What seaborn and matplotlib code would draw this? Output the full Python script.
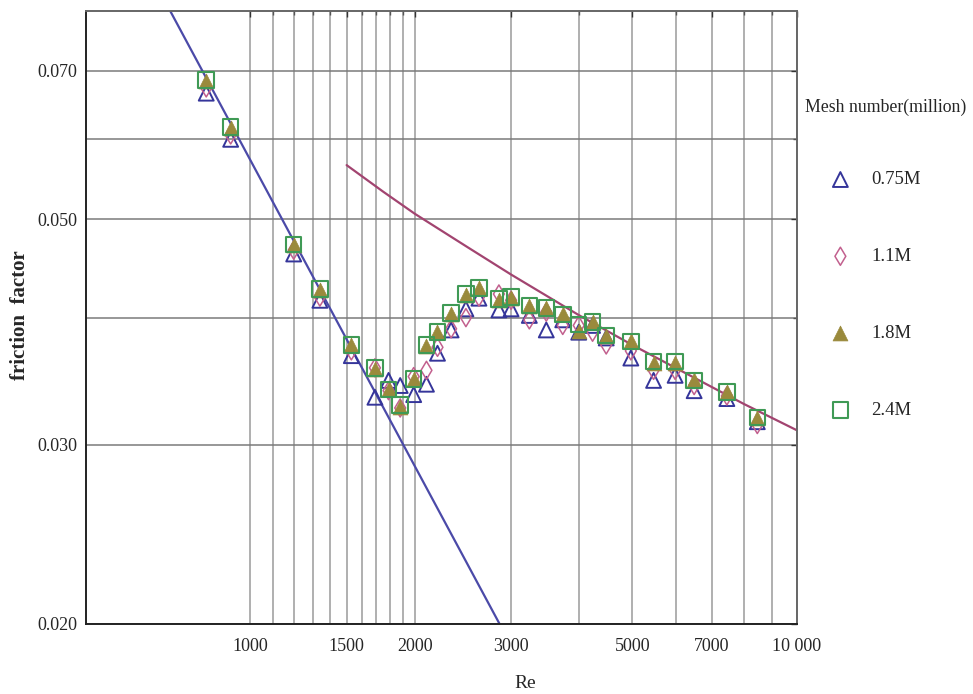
import matplotlib
matplotlib.use("Agg")
import matplotlib.pyplot as plt
import seaborn as sns
import numpy as np
from matplotlib.ticker import FixedLocator, FixedFormatter, NullFormatter

# ---- data ----
re_vals = [830, 920, 1200, 1340, 1530, 1690, 1790, 1880, 1990, 2100, 2200, 2330,
           2480, 2620, 2850, 3000, 3240, 3480, 3730, 3990, 4230, 4480, 4970, 5470,
           5990, 6490, 7450, 8470]
f_075 = [0.0665, 0.0599, 0.0462, 0.0416, 0.0367, 0.0334, 0.0347, 0.0343, 0.0336, 0.0344,
         0.0369, 0.0389, 0.0408, 0.0418, 0.0407, 0.0408, 0.0402, 0.0389, 0.0398, 0.0387,
         0.0393, 0.0382, 0.0365, 0.0347, 0.0351, 0.0339, 0.0333, 0.0316]
f_11 = [0.0673, 0.0605, 0.0466, 0.0419, 0.0371, 0.0357, 0.0339, 0.0326, 0.0350, 0.0355,
        0.0374, 0.0390, 0.0400, 0.0419, 0.0422, 0.0416, 0.0398, 0.0405, 0.0393, 0.0393,
        0.0387, 0.0376, 0.0371, 0.0355, 0.0355, 0.0343, 0.0335, 0.0314]
f_18 = [0.0684, 0.0615, 0.0471, 0.0426, 0.0376, 0.0356, 0.0340, 0.0327, 0.0348, 0.0375,
        0.0387, 0.0403, 0.0421, 0.0428, 0.0416, 0.0418, 0.0411, 0.0409, 0.0403, 0.0388,
        0.0396, 0.0384, 0.0379, 0.0361, 0.0361, 0.0347, 0.0338, 0.0319]
f_24 = [0.0685, 0.0616, 0.0472, 0.0427, 0.0376, 0.0357, 0.0340, 0.0328, 0.0348, 0.0376,
        0.0387, 0.0404, 0.0422, 0.0428, 0.0417, 0.0419, 0.0411, 0.0409, 0.0403, 0.0394,
        0.0396, 0.0384, 0.0379, 0.0362, 0.0362, 0.0347, 0.0338, 0.0319]

re_lam = [700, 2900]
f_lam = [0.0816, 0.0197]
re_turb = [1500, 1750, 2000, 2500, 3000, 4000, 5000, 6000, 8000, 10000]
f_turb = [0.0565, 0.0532, 0.0506, 0.0469, 0.0441, 0.0402, 0.0376, 0.0357, 0.0329, 0.0310]

series_labels = ["0.75M", "1.1M", "1.8M", "2.4M"]
x_major = [1000, 1500, 2000, 3000, 5000, 7000, 10000]
x_major_labels = ["1000", "1500", "2000", "3000", "5000", "7000", "10 000"]
x_minor = [1100, 1200, 1300, 1400, 1600, 1700, 1800, 1900, 4000, 6000, 8000, 9000]
y_major = [0.020, 0.030, 0.050, 0.070]
y_major_labels = ["0.020", "0.030", "0.050", "0.070"]
y_minor = [0.040, 0.060]

# ---- style ----
sns.set_style("white")
plt.rcParams["font.family"] = ["Liberation Serif", "DejaVu Serif"]

fig = plt.figure(figsize=(9.73, 6.94), dpi=100)
ax = fig.add_axes([86 / 973, 1 - 623.7 / 694, (796.7 - 86) / 973, (623.7 - 11) / 694])
ax.set_xscale("log")
ax.set_yscale("log")

c_blue_line = "#4b4aa8"
c_pink_line = "#a24470"
sns.lineplot(x=re_lam, y=f_lam, color=c_blue_line, lw=1.6, sort=False, estimator=None, ax=ax)
sns.lineplot(x=re_turb, y=f_turb, color=c_pink_line, lw=1.6, sort=False, estimator=None, ax=ax)

styles = [
    (f_075, "^", 115, "none", "#35359a", 1.4),
    (f_11, "d", 85, "none", "#c2608e", 1.1),
    (f_18, "^", 115, "#9a8a3c", "#9a8a3c", 0.5),
    (f_24, "s", 125, "none", "#3f9a55", 1.5),
]
for (fv, mk, sz, fc, ec, lw), lab in zip(styles, series_labels):
    sns.scatterplot(x=re_vals, y=fv, marker=mk, s=sz, facecolor=fc, edgecolor=ec,
                    linewidth=lw, label=lab, ax=ax, zorder=3)

ax.set_xlim(500, 10000)
ax.set_ylim(0.020, 0.0801)

ax.xaxis.set_major_locator(FixedLocator(x_major))
ax.xaxis.set_major_formatter(FixedFormatter(x_major_labels))
ax.xaxis.set_minor_locator(FixedLocator(x_minor))
ax.xaxis.set_minor_formatter(NullFormatter())
ax.yaxis.set_major_locator(FixedLocator(y_major))
ax.yaxis.set_major_formatter(FixedFormatter(y_major_labels))
ax.yaxis.set_minor_locator(FixedLocator(y_minor))
ax.yaxis.set_minor_formatter(NullFormatter())

ax.grid(True, axis="x", which="both", color="#9a9a9a", lw=1.1)
ax.grid(True, axis="y", which="both", color="#7a7a7a", lw=1.1)
ax.set_axisbelow(True)

ax.tick_params(axis="both", which="major", direction="in", length=4, width=1,
               color="#333333", labelsize=13, top=True, right=True)
ax.tick_params(axis="both", which="minor", direction="in", length=3, width=1,
               color="#555555", top=True, right=True)
ax.tick_params(axis="x", which="major", pad=10)
ax.tick_params(axis="y", which="major", pad=6)

for side in ["left", "bottom"]:
    ax.spines[side].set_color("#222222")
    ax.spines[side].set_linewidth(1.4)
for side in ["top", "right"]:
    ax.spines[side].set_color("#666666")
    ax.spines[side].set_linewidth(1.4)

ax.set_xlabel("Re", fontsize=14)
ax.xaxis.set_label_coords((525 - 86) / 710.7, (623.7 - 675) / 612.7)
ax.set_ylabel("friction  factor", fontsize=15, fontweight="bold")
ax.yaxis.set_label_coords((30 - 86) / 710.7, (623.7 - 315) / 612.7)

# legend
if ax.get_legend():
    ax.get_legend().remove()
handles, labels = ax.get_legend_handles_labels()
fig.text(805 / 973, 1 - 107 / 694, "Mesh number(million)", fontsize=12.8, va="center", ha="left")
fig.legend(handles, labels, loc="center left", bbox_to_anchor=(831 / 973, 1 - 295 / 694),
           frameon=False, fontsize=13.5, handlelength=1.0, handletextpad=1.15,
           labelspacing=3.18, borderpad=0, borderaxespad=0)

fig.savefig("out.png", dpi=100)
